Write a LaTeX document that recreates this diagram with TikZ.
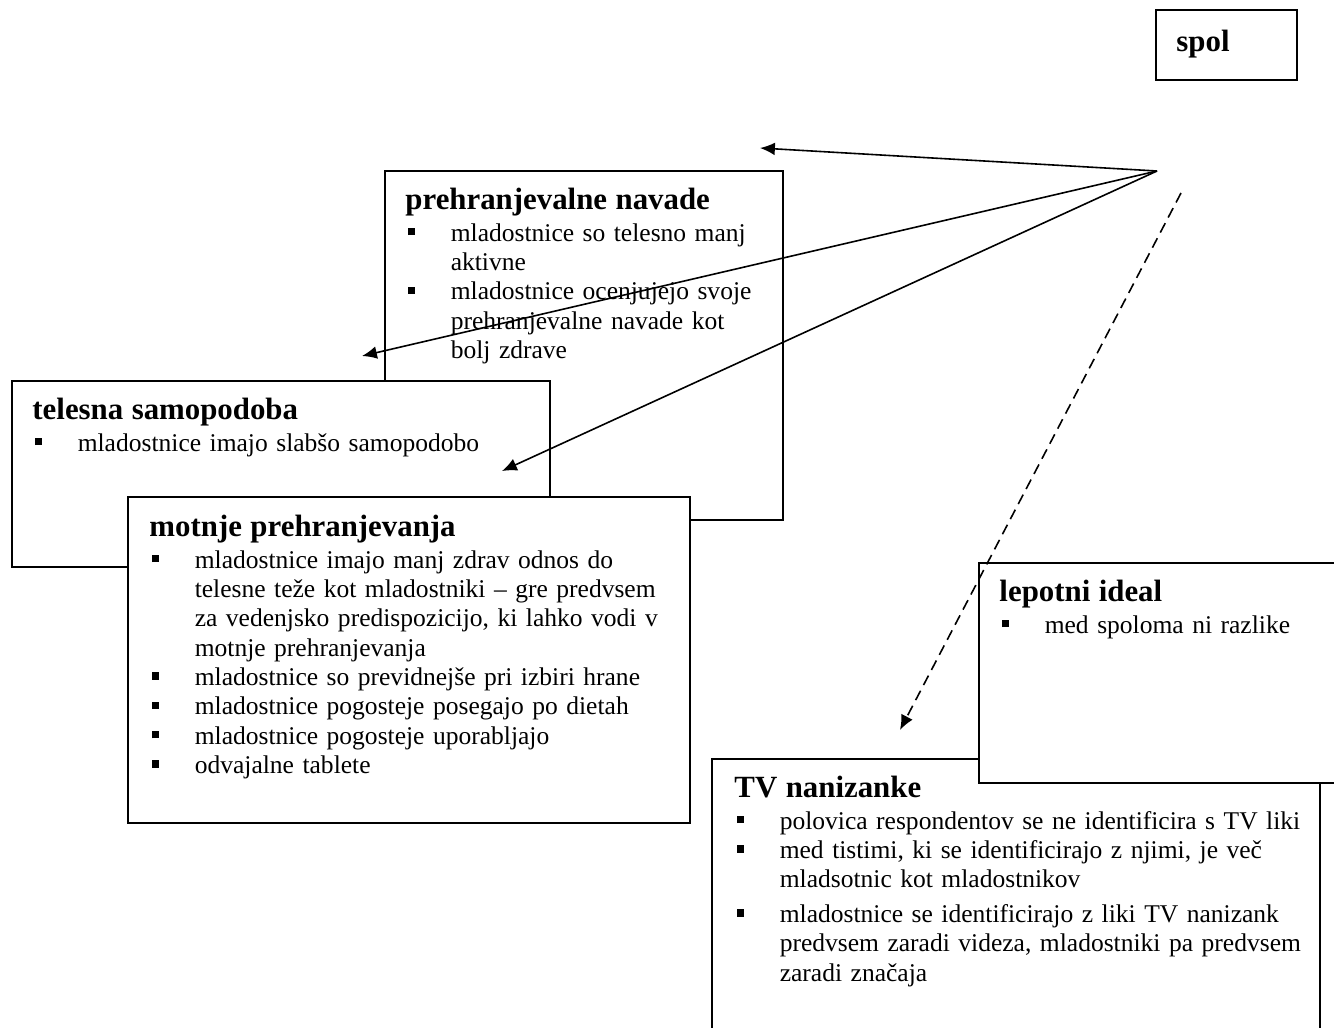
\documentclass[tikz,border=0pt]{standalone}
\usepackage{fontspec}
\setmainfont{Liberation Serif}
\usetikzlibrary{fit,arrows.meta}

\newcommand{\sqb}{\rule[2.8pt]{3.3pt}{3.4pt}}
\newcommand{\hd}[1]{{\fontsize{14.5}{16}\selectfont\bfseries\vrule width 0pt depth 4.2pt #1\par}\vspace{1.2pt}}
\newcommand{\itm}[1]{\par\prevdepth=\dp\strutbox\noindent\makebox[21.3pt][l]{\hspace{1pt}\sqb}%
  \parbox[t]{\dimexpr\hsize-21.3pt\relax}{\raggedright\strut #1\strut}}

\begin{document}
\begin{tikzpicture}[x=0.47pt, y=-0.47pt]
        \tikzstyle{box}=[draw, line width=0.9pt, fill=white, inner sep=0pt]
        \tikzstyle{txt}=[anchor=base west, inner sep=0pt, align=left, font=\fontsize{12}{13.8}\selectfont]
        \tikzstyle{link}=[line width=0.75pt, -{Latex[length=7pt, width=6pt]}]

        \useasboundingbox (0,0) rectangle (1334,1027);
        \clip (0,0) rectangle (1334,1027);

        \node   (spol)   [box, fit={(1156,10) (1297,80)}] {};
        \node   (spol-t) [txt, font=\fontsize{14.5}{16}\selectfont\bfseries] at ([shift={(21,42)}]spol.north west) {spol};

        \node   (navade)   [box, fit={(385,171) (783,520)}] {};
        \node   (navade-t) [txt, text width=370*0.47pt] at ([shift={(21,39)}]navade.north west) {%
            \hd{prehranjevalne navade}%
            \itm{mladostnice so telesno manj\\ aktivne}%
            \itm{mladostnice ocenjujejo svoje\\ prehranjevalne navade kot\\ bolj zdrave}};

        \node   (samopodoba)   [box, fit={(12,381) (550,567)}] {};
        \node   (samopodoba-t) [txt, text width=500*0.47pt] at ([shift={(21,39)}]samopodoba.north west) {%
            \hd{telesna samopodoba}%
            \itm{mladostnice imajo slabšo samopodobo}};

        \node   (motnje)   [box, fit={(128,497) (690,823)}] {};
        \node   (motnje-t) [txt, text width=530*0.47pt] at ([shift={(22,40)}]motnje.north west) {%
            \hd{motnje prehranjevanja}%
            \itm{mladostnice imajo manj zdrav odnos do\\ telesne teže kot mladostniki – gre predvsem\\ za vedenjsko predispozicijo, ki lahko vodi v\\ motnje prehranjevanja}%
            \itm{mladostnice so previdnejše pri izbiri hrane}%
            \itm{mladostnice pogosteje posegajo po dietah}%
            \itm{mladostnice pogosteje uporabljajo}%
            \itm{odvajalne tablete}};

        \node   (nanizanke)   [box, fit={(712,759) (1320,1045)}] {};
        \node   (nanizanke-t) [txt, text width=580*0.47pt] at ([shift={(23,39)}]nanizanke.north west) {%
            \hd{TV nanizanke}%
            \itm{polovica respondentov se ne identificira s TV liki}%
            \itm{med tistimi, ki se identificirajo z njimi, je več\\ mladsotnic kot mladostnikov}%
            \vspace{2.5pt}%
            \itm{mladostnice se identificirajo z liki TV nanizank\\ predvsem zaradi videza, mladostniki pa predvsem\\ zaradi značaja}};

        \node   (ideal)   [box, fit={(979,563) (1350,783)}] {};
        \node   (ideal-t) [txt, text width=330*0.47pt] at ([shift={(21,39)}]ideal.north west) {%
            \hd{lepotni ideal}%
            \itm{med spoloma ni razlike}};

        \coordinate (src)   at (1157,171);
        \coordinate (src-d) at (1181,193);
        \coordinate (tip-1) at (760,148);
        \coordinate (tip-2) at (362,356);
        \coordinate (tip-3) at (502,471);
        \coordinate (tip-4) at (900,730);

        \draw[link] (src) -- (tip-1);
        \draw[link] (src) -- (tip-2);
        \draw[link] (src) -- (tip-3);
        \draw[link, dash pattern=on 5pt off 3pt] (src-d) -- (tip-4);

    \end{tikzpicture}
\end{document}
